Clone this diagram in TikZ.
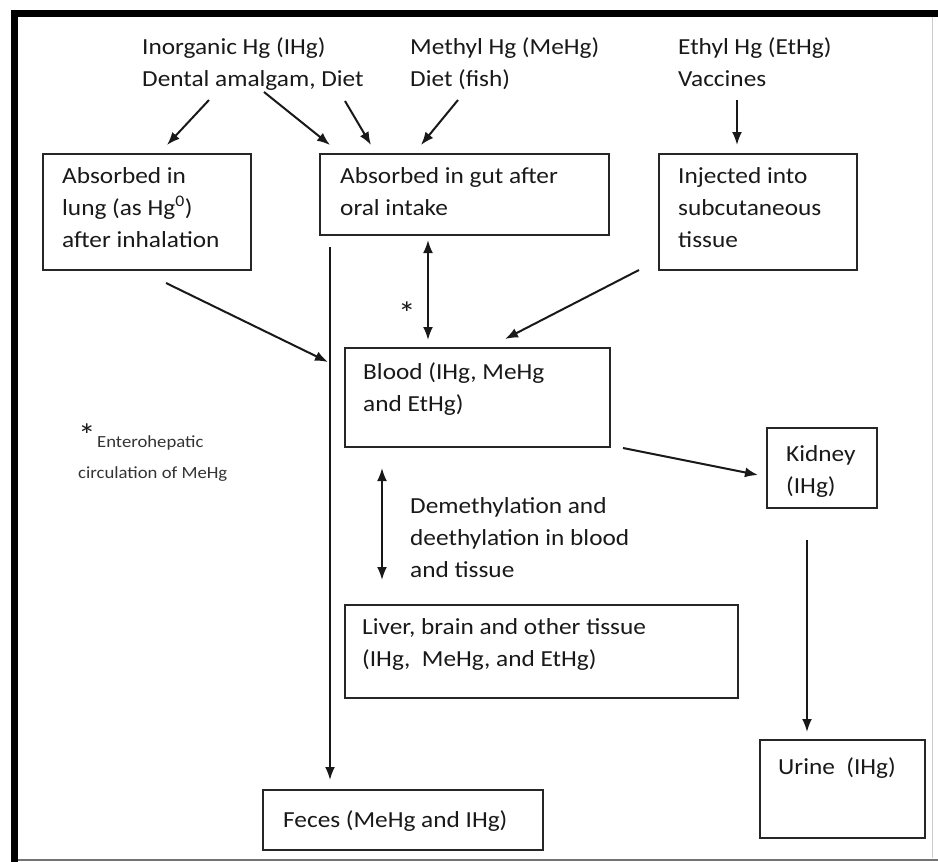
\documentclass[tikz,border=0pt]{standalone}
\usepackage{fontspec}
\setmainfont{Carlito}[FakeStretch=1.1]
\usetikzlibrary{arrows.meta,calc}

\begin{document}
\begin{tikzpicture}[x=1pt,y=-1pt,
  box/.style={draw=black!85, line width=2pt, rectangle, inner sep=0pt},
  lbl/.style={anchor=north west, inner sep=0pt, align=left, text=black!90,
    font=\fontsize{23}{32}\selectfont},
  small/.style={anchor=north west, inner sep=0pt, align=left, text=black!80,
    font=\fontsize{17}{22}\selectfont},
  starmark/.style={anchor=center, inner sep=0pt, text=black!90,
    font=\fontsize{32}{32}\selectfont},
  conn/.style={line width=2pt, draw=black!90, -{Latex[length=13pt,width=10pt]}},
  both/.style={line width=2pt, draw=black!90,
    {Latex[length=13pt,width=10pt]}-{Latex[length=13pt,width=10pt]}},
]
\useasboundingbox (0,0) rectangle (938,862);

% outer frame
\draw[line width=7pt, black] (14.5,862) -- (14.5,13.5) -- (938,13.5);
\draw[black!55, line width=2pt] (18,859.5) -- (938,859.5);
\draw[black!20, line width=1pt] (932.5,17) -- (932.5,858);

% sources of exposure
\node[lbl] (inorg) at (142,37) {Inorganic Hg (IHg)\\Dental amalgam, Diet};
\node[lbl] (methyl) at (410,37) {Methyl Hg (MeHg)\\Diet (fish)};
\node[lbl] (ethyl) at (678,37) {Ethyl Hg (EtHg)\\Vaccines};

% boxes
\node[box, minimum width=208pt, minimum height=116pt] (lung) at (147,212) {};
\node[box, minimum width=289pt, minimum height=81pt] (gut) at (464.5,194.5) {};
\node[box, minimum width=198pt, minimum height=116pt] (inj) at (758,212) {};
\node[box, minimum width=265pt, minimum height=99pt] (blood) at (477.5,397.5) {};
\node[box, minimum width=110pt, minimum height=80pt] (kidney) at (822,468) {};
\node[box, minimum width=393pt, minimum height=93pt] (liver) at (541.5,651.5) {};
\node[box, minimum width=165pt, minimum height=98pt] (urine) at (842.5,789) {};
\node[box, minimum width=280pt, minimum height=60pt] (feces) at (403,820) {};

% box texts
\node[lbl] (lungtxt) at (62,167) {Absorbed in\\lung (as Hg\textsuperscript{0})\\after inhalation};
\node[lbl] (guttxt) at (340,167) {Absorbed in gut after\\oral intake};
\node[lbl] (injtxt) at (678,167) {Injected into\\subcutaneous\\tissue};
\node[lbl] (bloodtxt) at (363,362) {Blood (IHg, MeHg\\and EtHg)};
\node[lbl] (kidneytxt) at (786,445) {Kidney\\(IHg)};
\node[lbl] (demeth) at (410,497) {Demethylation and\\deethylation in blood\\and tissue};
\node[lbl] (livertxt) at (362,618) {Liver, brain and other tissue\\(IHg,\ \ MeHg, and EtHg)};
\node[lbl] (urinetxt) at (778,757) {Urine\ \ (IHg)};
\node[lbl] (fecestxt) at (283,810) {Feces (MeHg and IHg)};

% footnote for the asterisk
\node[starmark] (star) at (407,313) {*};
\node[starmark] (legstar) at (87,435) {*};
\node[small] (legend1) at (97,435) {Enterohepatic};
\node[small] (legend2) at (78,466) {circulation of MeHg};

% arrow end points
\coordinate (inorgA) at (209,100);
\coordinate (lungIn) at (167,145);
\coordinate (inorgB) at (264,92);
\coordinate (gutInA) at (330,145);
\coordinate (inorgC) at (345,101);
\coordinate (gutInB) at (371,145);
\coordinate (methylA) at (458,100);
\coordinate (gutInC) at (421,145);
\coordinate (ethylA) at (737,100);
\coordinate (injIn) at (737,145);
\coordinate (lungOut) at (166,283);
\coordinate (fecesTop) at (330,247);
\coordinate (fecesIn) at (330,780);
\coordinate (lungEnd) at (328,362);
\coordinate (injOut) at (639,270);
\coordinate (bloodInR) at (505,339);
\coordinate (gutLow) at (428,240);
\coordinate (bloodTop) at (428,340);
\coordinate (bloodOut) at (623,448);
\coordinate (kidneyIn) at (758,475);
\coordinate (demethTop) at (382,468);
\coordinate (demethBot) at (382,580);
\coordinate (kidneyOut) at (807,540);
\coordinate (urineIn) at (807,732);

% connectors
\draw[conn] (inorgA) -- (lungIn);
\draw[conn] (inorgB) -- (gutInA);
\draw[conn] (inorgC) -- (gutInB);
\draw[conn] (methylA) -- (gutInC);
\draw[conn] (ethylA) -- (injIn);
\draw[conn] (fecesTop) -- (fecesIn);
\draw[conn] (lungOut) -- (lungEnd);
\draw[conn] (injOut) -- (bloodInR);
\draw[both] (gutLow) -- (bloodTop);
\draw[conn] (bloodOut) -- (kidneyIn);
\draw[both] (demethTop) -- (demethBot);
\draw[conn] (kidneyOut) -- (urineIn);
\end{tikzpicture}
\end{document}
